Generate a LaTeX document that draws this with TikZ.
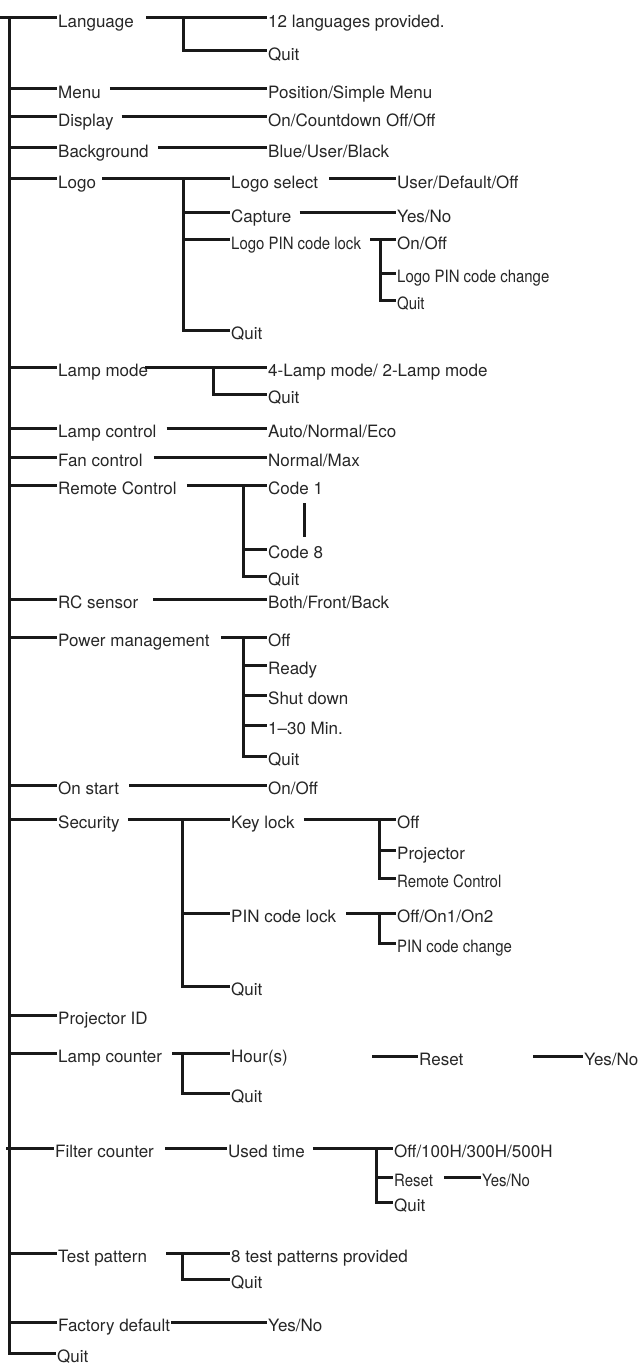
\documentclass[tikz,border=0pt]{standalone}
\usepackage{fontspec}
\setmainfont{TeX Gyre Heros}
\newfontfamily\narrowfont[FakeStretch=0.88]{TeX Gyre Heros}
\usepackage{tikz}

\begin{document}
\begin{tikzpicture}[
  x=1pt, y=-1pt,
  item/.style={anchor=west, inner xsep=1pt, inner ysep=0pt, text height=21pt, text depth=2pt, text=black!85, font=\fontsize{17}{20}\selectfont},
  small/.style={item, font=\fontsize{17}{20}\narrowfont},
  tree/.style={draw=black!90, line width=3pt},
]
\useasboundingbox (0,0) rectangle (641,1364);
% first level
\node[item] (lang)    at (57,18)   {Language};
\node[item] (menu)    at (57,89)   {Menu};
\node[item] (disp)    at (57,117)  {Display};
\node[item] (bg)      at (57,148)  {Background};
\node[item] (logo)    at (57,179)  {Logo};
\node[item] (lmode)   at (57,367)  {Lamp mode};
\node[item] (lctrl)   at (57,428)  {Lamp control};
\node[item] (fan)     at (57,457)  {Fan control};
\node[item] (remote)  at (57,485)  {Remote Control};
\node[item] (rcs)     at (57,599)  {RC sensor};
\node[item] (power)   at (57,637)  {Power management};
\node[item] (onstart) at (57,785)  {On start};
\node[item] (sec)     at (57,819)  {Security};
\node[item] (projid)  at (57,1015) {Projector ID};
\node[item] (lcount)  at (57,1053) {Lamp counter};
\node[item] (filter)  at (54,1148) {Filter counter};
\node[item] (test)    at (57,1253) {Test pattern};
\node[item] (factory) at (57,1322) {Factory default};
\node[item] (quit)    at (56,1353) {Quit};
% second level
\node[item] (lang12)   at (267,18)   {12 languages provided.};
\node[item] (langq)    at (267,51)   {Quit};
\node[item] (menu1)    at (267,89)   {Position/Simple Menu};
\node[item] (disp1)    at (267,117)  {On/Countdown Off/Off};
\node[item] (bg1)      at (267,148)  {Blue/User/Black};
\node[item] (logosel)  at (230,179)  {Logo select};
\node[item] (capture)  at (230,213)  {Capture};
\node[small] (logopin) at (230,240)  {Logo PIN code lock};
\node[item] (logoq)    at (230,330)  {Quit};
\node[item] (lmode1)   at (267,367)  {4-Lamp mode/ 2-Lamp mode};
\node[item] (lmodeq)   at (267,394)  {Quit};
\node[item] (lctrl1)   at (267,428)  {Auto/Normal/Eco};
\node[item] (fan1)     at (267,457)  {Normal/Max};
\node[item] (code1)    at (267,485)  {Code 1};
\node[item] (code8)    at (267,549)  {Code 8};
\node[item] (remoteq)  at (267,576)  {Quit};
\node[item] (rcs1)     at (267,599)  {Both/Front/Back};
\node[item] (poff)     at (267,637)  {Off};
\node[item] (pready)   at (267,665)  {Ready};
\node[item] (pshut)    at (267,695)  {Shut down};
\node[item] (pmin)     at (267,725)  {1–30 Min.};
\node[item] (powerq)   at (267,756)  {Quit};
\node[item] (onstart1) at (267,785)  {On/Off};
\node[item] (keylock)  at (230,819)  {Key lock};
\node[item] (pinlock)  at (230,913)  {PIN code lock};
\node[item] (secq)     at (230,986)  {Quit};
\node[item] (hours)    at (230,1053) {Hour(s)};
\node[item] (lcountq)  at (230,1093) {Quit};
\node[item] (used)     at (227,1148) {Used time};
\node[item] (test8)    at (230,1253) {8 test patterns provided};
\node[item] (testq)    at (230,1279) {Quit};
\node[item] (factory1) at (267,1322) {Yes/No};
% third level
\node[item] (logosel1)  at (396,179)  {User/Default/Off};
\node[item] (capture1)  at (396,213)  {Yes/No};
\node[item] (logopin1)  at (396,240)  {On/Off};
\node[small] (logopin2) at (396,273)  {Logo PIN code change};
\node[small] (logopinq) at (396,300)  {Quit};
\node[item] (koff)      at (396,819)  {Off};
\node[item] (kproj)     at (396,850)  {Projector};
\node[small] (kremote)  at (396,878)  {Remote Control};
\node[item] (pinon)     at (396,913)  {Off/On1/On2};
\node[small] (pinchg)   at (396,943)  {PIN code change};
\node[item] (lreset)    at (418,1056) {Reset};
\node[item] (lyes)      at (583,1056) {Yes/No};
\node[item] (uoff)      at (393,1148) {Off/100H/300H/500H};
\node[small] (ureset)   at (393,1177) {Reset};
\node[small] (uyes)     at (481,1177) {Yes/No};
\node[item] (uquit)     at (393,1202) {Quit};

% trunk
\coordinate (root) at (0,18);
\coordinate (trunk) at (9,18);
\draw[tree] (root) -- (lang.west);
\draw[tree] (trunk) |- (quit.west);
\foreach \n in {menu,disp,bg,logo,lmode,lctrl,fan,remote,rcs,power,onstart,sec,projid,lcount,test,factory}
  \draw[tree] (trunk |- \n.west) -- (\n.west);
\draw[tree] ([xshift=-3pt]trunk |- filter.west) -- (filter.west);

% straight links
\foreach \a/\b/\g in {lang/lang12/11, menu/menu1/8, disp/disp1/7, bg/bg1/8, logo/logosel/5,
    logosel/logosel1/10, capture/capture1/7, logopin/logopin1/8, lmode/lmode1/-4, lctrl/lctrl1/9,
    fan/fan1/10, remote/code1/9, rcs/rcs1/14, power/poff/10, onstart/onstart1/9, sec/keylock/7,
    keylock/koff/8, pinlock/pinon/9, lcount/hours/9, filter/used/10, used/uoff/7, ureset/uyes/10,
    test/test8/18, factory/factory1/0}
  \draw[tree] ([xshift=\g pt]\a.east) -- (\b.west);

% forks
\coordinate (langfork) at (183,18);
\draw[tree] (langfork) |- (langq.west);
\coordinate (logofork) at (183,179);
\draw[tree] (logofork) |- (logoq.west);
\foreach \n in {capture,logopin}
  \draw[tree] (logofork |- \n.west) -- (\n.west);
\coordinate (pinfork) at (380,240);
\draw[tree] (pinfork) |- (logopinq.west);
\draw[tree] (pinfork |- logopin2.west) -- (logopin2.west);
\coordinate (lmodefork) at (213,367);
\draw[tree] (lmodefork) |- (lmodeq.west);
\coordinate (remotefork) at (243,485);
\draw[tree] (remotefork) |- (remoteq.west);
\draw[tree] (remotefork |- code8.west) -- (code8.west);
\draw[tree] (code1.west) ++(37,18) -- ++(0,34);
\coordinate (powerfork) at (243,637);
\draw[tree] (powerfork) |- (powerq.west);
\foreach \n in {pready,pshut,pmin}
  \draw[tree] (powerfork |- \n.west) -- (\n.west);
\coordinate (secfork) at (182,819);
\draw[tree] (secfork) |- (secq.west);
\draw[tree] (secfork |- pinlock.west) -- (pinlock.west);
\coordinate (keyfork) at (379,819);
\draw[tree] (keyfork) |- (kremote.west);
\draw[tree] (keyfork |- kproj.west) -- (kproj.west);
\coordinate (pinlockfork) at (379,913);
\draw[tree] (pinlockfork) |- (pinchg.west);
\coordinate (lcountfork) at (182,1053);
\draw[tree] (lcountfork) |- (lcountq.west);
\draw[tree] ([xshift=-46pt]lreset.west) -- (lreset.west);
\draw[tree] ([xshift=-50pt]lyes.west) -- (lyes.west);
\coordinate (usedfork) at (376,1148);
\draw[tree] (usedfork) |- (uquit.west);
\draw[tree] (usedfork |- ureset.west) -- (ureset.west);
\coordinate (testfork) at (182,1253);
\draw[tree] (testfork) |- (testq.west);
\end{tikzpicture}
\end{document}
